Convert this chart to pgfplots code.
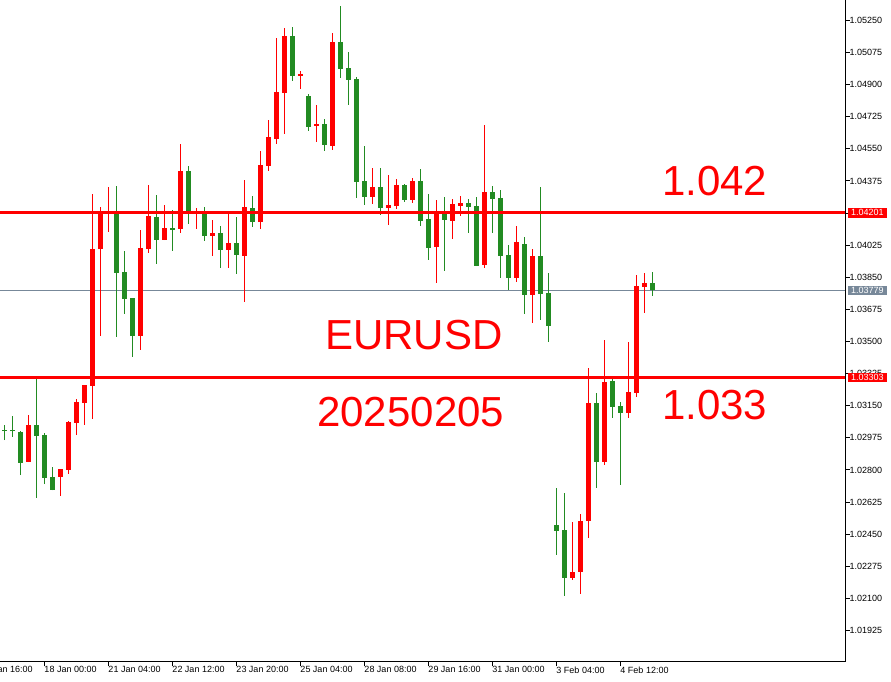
\documentclass[border=0pt]{standalone}
\usepackage{fontspec}
\setmainfont{Liberation Sans}
\usepackage{pgfplots}
\usepackage{pgfplotstable}
\pgfplotsset{compat=1.18}
\definecolor{bull}{RGB}{255,0,0}
\definecolor{bear}{RGB}{34,139,34}
\definecolor{bidgray}{RGB}{119,136,153}

% EURUSD H4, rising candles (red) and falling candles (green)
\pgfplotstableread{
x open high low close
3 1.02845 1.03099 1.02843 1.03045
7 1.02762 1.02807 1.02658 1.02805
8 1.02800 1.03067 1.02778 1.03061
9 1.03057 1.03187 1.02990 1.03170
10 1.03166 1.03265 1.03045 1.03263
11 1.03259 1.04304 1.03078 1.04004
12 1.04004 1.04231 1.03532 1.04204
13 1.04203 1.04340 1.04098 1.04209
17 1.03532 1.04108 1.03455 1.04010
18 1.04004 1.04353 1.03984 1.04184
20 1.04055 1.04244 1.04053 1.04119
22 1.04115 1.04576 1.04093 1.04429
24 1.04203 1.04228 1.04115 1.04209
26 1.04077 1.04162 1.03968 1.04091
28 1.04000 1.04195 1.03902 1.04037
30 1.03968 1.04380 1.03717 1.04233
32 1.04153 1.04538 1.04115 1.04462
33 1.04458 1.04707 1.04431 1.04615
34 1.04605 1.05154 1.04578 1.04860
35 1.04856 1.05209 1.04633 1.05165
37 1.04949 1.04976 1.04878 1.04958
39 1.04676 1.04789 1.04589 1.04685
41 1.04567 1.05181 1.04545 1.05132
46 1.04289 1.04446 1.04251 1.04342
48 1.04229 1.04407 1.04137 1.04244
49 1.04240 1.04386 1.04224 1.04353
51 1.04273 1.04391 1.04256 1.04375
54 1.04017 1.04273 1.03820 1.04206
56 1.04158 1.04278 1.04060 1.04249
57 1.04240 1.04293 1.04186 1.04255
60 1.03919 1.04680 1.03902 1.04315
64 1.03848 1.04129 1.03826 1.04042
66 1.03755 1.04004 1.03602 1.03966
71 1.02213 1.02516 1.02202 1.02244
72 1.02245 1.02560 1.02126 1.02522
73 1.02523 1.03356 1.02431 1.03165
75 1.02845 1.03508 1.02829 1.03279
78 1.03112 1.03497 1.03085 1.03225
79 1.03221 1.03862 1.03199 1.03802
80 1.03799 1.03873 1.03657 1.03819
}\upcandles

\pgfplotstableread{
x open high low close
0 1.03018 1.03045 1.02963 1.03012
1 1.03015 1.03094 1.02981 1.03010
2 1.03007 1.03012 1.02772 1.02839
4 1.03045 1.03301 1.02649 1.02987
5 1.02990 1.03001 1.02723 1.02758
6 1.02762 1.02816 1.02689 1.02691
14 1.04199 1.04347 1.03526 1.03875
15 1.03879 1.03993 1.03652 1.03733
16 1.03737 1.03739 1.03417 1.03532
19 1.04179 1.04298 1.03924 1.04055
21 1.04119 1.04217 1.03995 1.04109
23 1.04429 1.04456 1.04142 1.04210
25 1.04195 1.04233 1.04049 1.04077
27 1.04091 1.04129 1.03902 1.04000
29 1.04037 1.04179 1.03870 1.03973
31 1.04228 1.04293 1.04126 1.04153
36 1.05165 1.05214 1.04921 1.04949
38 1.04838 1.04849 1.04649 1.04671
40 1.04685 1.04713 1.04540 1.04573
42 1.05132 1.05328 1.04938 1.04987
43 1.04991 1.05078 1.04791 1.04927
44 1.04931 1.04943 1.04284 1.04371
45 1.04375 1.04566 1.04246 1.04289
47 1.04342 1.04446 1.04191 1.04229
50 1.04353 1.04358 1.04262 1.04273
52 1.04375 1.04440 1.04131 1.04158
53 1.04168 1.04304 1.03946 1.04011
55 1.04206 1.04288 1.03886 1.04164
58 1.04255 1.04278 1.04093 1.04235
59 1.04238 1.04288 1.03911 1.03913
61 1.04315 1.04347 1.04093 1.04278
62 1.04282 1.04326 1.03848 1.03968
63 1.03971 1.04026 1.03782 1.03848
65 1.04031 1.04070 1.03652 1.03755
67 1.03966 1.04342 1.03619 1.03761
68 1.03764 1.03873 1.03499 1.03586
69 1.02500 1.02702 1.02338 1.02469
70 1.02473 1.02674 1.02115 1.02213
74 1.03165 1.03219 1.02703 1.02845
76 1.03285 1.03301 1.03085 1.03145
77 1.03148 1.03170 1.02720 1.03112
81 1.03819 1.03879 1.03750 1.03779
}\downcandles

\begin{document}
\begin{tikzpicture}
\begin{axis}[
  at={(0pt,20pt)}, anchor=south west,
  scale only axis, width=845pt, height=662pt,
  xmin=-0.5375, xmax=105.09,
  ymin=1.017533, ymax=1.053612,
  clip=false,
  axis x line*=bottom, axis y line*=right,
  axis line style={-, line width=1pt, black},
  tick align=outside, major tick length=4.5pt,
  tick style={line width=1pt, black},
  xtick={5,13,21,29,37,45,53,61,69,77},
  xticklabels={18 Jan 00:00,21 Jan 04:00,22 Jan 12:00,23 Jan 20:00,25 Jan 04:00,28 Jan 08:00,29 Jan 16:00,31 Jan 00:00,3 Feb 04:00,4 Feb 12:00},
  ytick={1.01925,1.02100,1.02275,1.02450,1.02625,1.02800,1.02975,1.03150,1.03325,1.03500,1.03675,1.03850,1.04025,1.04200,1.04375,1.04550,1.04725,1.04900,1.05075,1.05250},
  scaled y ticks=false,
  ticklabel style={font=\fontsize{9}{10}\selectfont, inner sep=0pt},
  xticklabel style={anchor=north west},
  yticklabel style={anchor=west, /pgf/number format/.cd, fixed, fixed zerofill, precision=5, assume math mode=true},
  error bars/error mark=none,
  candle/.style={draw=none, mark=none, forget plot},
]
% bid line
\addplot[bidgray, line width=1pt] coordinates {(-0.5375,1.03779) (105.09,1.03779)};

% wicks
\addplot[candle, error bars/.cd, y dir=plus, y explicit,
  error bar style={line width=1pt, bull}]
  table[x=x, y=low, y error expr=\thisrow{high}-\thisrow{low}] {\upcandles};
\addplot[candle, error bars/.cd, y dir=plus, y explicit,
  error bar style={line width=1pt, bear}]
  table[x=x, y=low, y error expr=\thisrow{high}-\thisrow{low}] {\downcandles};
% bodies
\addplot[candle, error bars/.cd, y dir=plus, y explicit,
  error bar style={line width=5pt, bull}]
  table[x=x, y=open, y error expr=\thisrow{close}-\thisrow{open}] {\upcandles};
\addplot[candle, error bars/.cd, y dir=plus, y explicit,
  error bar style={line width=5pt, bear}]
  table[x=x, y=close, y error expr=\thisrow{open}-\thisrow{close}] {\downcandles};

% level lines
\addplot[bull, line width=3pt] coordinates {(-0.5375,1.04201) (105.09,1.04201)};
\addplot[bull, line width=3pt] coordinates {(-0.5375,1.03303) (105.09,1.03303)};

% price boxes on the scale
\node[anchor=west, xshift=3pt, fill=bull, text=white, inner xsep=3pt, inner ysep=1.5pt, font=\fontsize{9}{10}\selectfont] at (axis cs:105.09,1.04201) {1.04201};
\node[anchor=west, xshift=3pt, fill=bidgray, text=white, inner xsep=3pt, inner ysep=1.5pt, font=\fontsize{9}{10}\selectfont] at (axis cs:105.09,1.03779) {1.03779};
\node[anchor=west, xshift=3pt, fill=bull, text=white, inner xsep=3pt, inner ysep=1.5pt, font=\fontsize{9}{10}\selectfont] at (axis cs:105.09,1.03303) {1.03303};

% cut-off first date label
\node[anchor=north west, inner sep=0pt, font=\fontsize{9}{10}\selectfont, yshift=-4.5pt] at (axis cs:-3,1.017533) {16 Jan 16:00};

% annotations
\node[text=bull, font=\fontsize{42}{50}\selectfont] at (axis cs:51.2,1.03535) {EURUSD};
\node[text=bull, font=\fontsize{42}{50}\selectfont] at (axis cs:50.8,1.03116) {20250205};
\node[text=bull, font=\fontsize{42}{50}\selectfont] at (axis cs:88.8,1.04375) {1.042};
\node[text=bull, font=\fontsize{42}{50}\selectfont] at (axis cs:88.8,1.03154) {1.033};
\end{axis}
\pgfresetboundingbox
\path[use as bounding box] (0,0) rectangle (891pt,682pt);
\end{tikzpicture}
\end{document}
